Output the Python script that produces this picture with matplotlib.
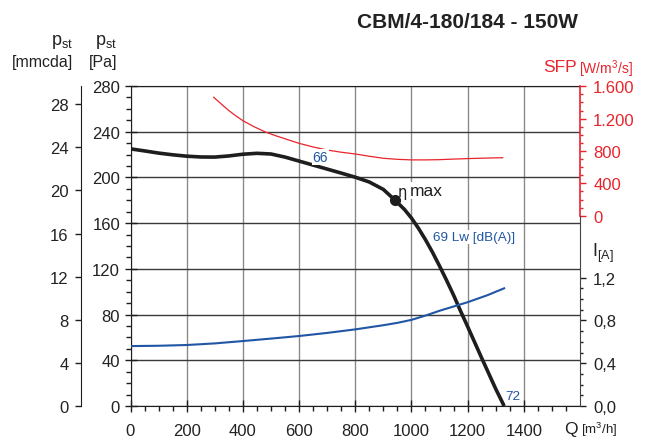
import matplotlib.pyplot as plt
import numpy as np
from matplotlib.ticker import FixedLocator, MultipleLocator

plt.rcParams['font.family'] = ['Liberation Sans', 'DejaVu Sans']
plt.rcParams['mathtext.fontset'] = 'custom'
plt.rcParams['mathtext.rm'] = 'Liberation Sans'
plt.rcParams['mathtext.it'] = 'Liberation Sans'

# pressure curve, Q [m3/h] vs p_st [Pa]
q_p = [0, 50, 100, 150, 200, 250, 300, 350, 400, 450, 500, 550, 600, 650, 700, 750, 800, 850, 900,
       942, 975, 1000, 1025, 1050, 1075, 1100, 1125, 1150, 1175, 1200, 1250, 1300, 1330]
p_st = [225, 223.2, 221.3, 219.8, 218.6, 217.9, 217.8, 218.8, 220.3, 221.1, 220.5, 217.8, 214.3, 210.8,
        207.3, 203.8, 200.2, 196, 189.5, 180, 172, 164.5, 155.5, 145.5, 134.5, 122.5, 110, 97, 83, 69.5, 42, 15, 0]

# specific fan power, W/(m3/s)
q_sfp = [296, 325, 350, 375, 400, 440, 480, 520, 560, 600, 650, 700, 750, 800, 850, 900, 950, 1000,
         1050, 1100, 1150, 1200, 1250, 1325]
sfp = [1465, 1375, 1300, 1235, 1175, 1100, 1035, 985, 940, 895, 850, 812, 785, 763, 735, 710, 697, 690,
       690, 693, 700, 706, 711, 717]

# current, A
q_i = [0, 100, 200, 300, 400, 500, 600, 700, 800, 900, 950, 1000, 1050, 1100, 1150, 1200, 1270, 1330]
current = [0.56, 0.563, 0.57, 0.585, 0.607, 0.63, 0.654, 0.683, 0.716, 0.755, 0.777, 0.805, 0.845,
           0.89, 0.93, 0.97, 1.035, 1.10]

eta_q, eta_p = 942, 180

x_ticks = [0, 200, 400, 600, 800, 1000, 1200, 1400]
pa_ticks = [0, 40, 80, 120, 160, 200, 240, 280]
mm_ticks = [0, 4, 8, 12, 16, 20, 24, 28]
sfp_ticks = [0, 400, 800, 1200, 1600]
sfp_labels = ['0', '400', '800', '1.200', '1.600']
i_ticks = [0, 0.4, 0.8, 1.2]
i_labels = ['0,0', '0,4', '0,8', '1,2']

RED = '#e8242c'
BLUE = '#2156a5'
DARK = '#1e1e1e'
W, H = 646, 439


def fx(x):
    return x / W


def fy(y):
    return 1 - y / H


fig = plt.figure(figsize=(6.46, 4.39), dpi=100)
ax = fig.add_axes([130.5 / W, 32 / H, 449.5 / W, 320 / H])

# main axis: pressure in Pa
ax.set_xlim(0, 1600)
ax.set_ylim(0, 280)
ax.xaxis.set_major_locator(FixedLocator(x_ticks))
ax.xaxis.set_minor_locator(FixedLocator(np.arange(0, 1600, 50)))
ax.yaxis.set_major_locator(FixedLocator(pa_ticks))
ax.yaxis.set_minor_locator(MultipleLocator(10))
ax.grid(axis='x', which='major', color='#8a8a8a', lw=1)
ax.grid(axis='y', which='major', color='#3a3a3a', lw=1)
ax.set_axisbelow(True)
ax.spines['right'].set_visible(False)
for s in ['left', 'bottom', 'top']:
    ax.spines[s].set_color(DARK)
ax.tick_params(which='major', direction='inout', length=9, width=1, color=DARK, labelsize=12, labelcolor='#222')
ax.tick_params(axis='y', which='major', pad=3)
ax.tick_params(axis='x', which='major', length=8, pad=8)
ax.tick_params(which='minor', direction='out', length=3.5, width=1, color=DARK)
ax.plot(q_p, p_st, color=DARK, lw=2.6, solid_capstyle='butt', solid_joinstyle='round', zorder=3)
ax.plot([eta_q], [eta_p], 'o', color=DARK, ms=7, zorder=4)

# mmcda axis on the far left
ax_mm = ax.twinx()
ax_mm.set_ylim(0, 320 / 10.78)
ax_mm.yaxis.set_ticks_position('left')
ax_mm.spines['left'].set_position(('outward', 36))
ax_mm.spines['left'].set_color(DARK)
for s in ['right', 'top', 'bottom']:
    ax_mm.spines[s].set_visible(False)
ax_mm.set_yticks(mm_ticks)
ax_mm.tick_params(axis='y', direction='out', length=4.5, width=1, color=DARK, labelsize=12, labelcolor='#222', pad=4)

# SFP axis (red, upper right)
ax_sfp = ax.twinx()
sfp_scale = 1600 / 129.4
ax_sfp.set_ylim(-(407 - 216.7) * sfp_scale, 1600 + 0.3 * sfp_scale)
for s in ['left', 'top', 'bottom']:
    ax_sfp.spines[s].set_visible(False)
ax_sfp.spines['right'].set_color(RED)
ax_sfp.spines['right'].set_linewidth(1.2)
ax_sfp.spines['right'].set_bounds(0, 1600 + 0.3 * sfp_scale)
ax_sfp.yaxis.set_major_locator(FixedLocator(sfp_ticks))
ax_sfp.yaxis.set_minor_locator(FixedLocator(np.arange(0, 1601, 100)))
ax_sfp.set_yticklabels(sfp_labels)
ax_sfp.tick_params(axis='y', which='major', direction='out', length=4.5, width=1, color=RED, labelcolor=RED, labelsize=12, pad=5)
ax_sfp.tick_params(axis='y', which='minor', direction='out', length=2.5, width=1, color=RED)
ax_sfp.plot(q_sfp, sfp, color=RED, lw=0.9)

# current axis (lower right)
ax_i = ax.twinx()
ax_i.set_ylim(0, 320 / 107)
for s in ['left', 'top', 'bottom']:
    ax_i.spines[s].set_visible(False)
ax_i.spines['right'].set_color('#444')
ax_i.spines['right'].set_bounds(0, (407 - 216.7) / 107)
ax_i.yaxis.set_major_locator(FixedLocator(i_ticks))
ax_i.yaxis.set_minor_locator(FixedLocator(np.arange(0, 1.25, 0.1)))
ax_i.set_yticklabels(i_labels)
ax_i.tick_params(axis='y', which='major', direction='out', length=4.5, width=1, color=DARK, labelcolor='#222', labelsize=12, pad=5)
ax_i.tick_params(axis='y', which='minor', direction='out', length=2.5, width=1, color=DARK)
ax_i.plot(q_i, current, color=BLUE, lw=1.5)

# labels inside the chart
box = dict(facecolor='white', edgecolor='none', pad=0.5)
ax_i.text(676, 218, '66', transform=ax.transData, color=BLUE, fontsize=10, ha='center', va='center', bbox=box)
ax_i.text(967, 188, 'η', transform=ax.transData, color=DARK, fontsize=10.5, ha='center', va='center',
          family='DejaVu Sans')
ax_i.text(995, 188.5, 'max', transform=ax.transData, color=DARK, fontsize=12.5, ha='left', va='center', bbox=box)
ax_i.text(1075, 148, '69 Lw [dB(A)]', transform=ax.transData, color=BLUE, fontsize=9.7, ha='left', va='center', bbox=box)
ax_i.text(1362, 9, '72', transform=ax.transData, color=BLUE, fontsize=9.7, ha='center', va='center')

# headers and axis captions
fig.text(fx(578), fy(22), 'CBM/4-180/184 - 150W', ha='right', va='center', fontsize=15, weight='bold', color='#222')
fig.text(fx(62), fy(42), r'p$_{\rm st}$', ha='center', va='center', fontsize=13, color='#222')
fig.text(fx(73), fy(63), '[mmcda]', ha='right', va='center', fontsize=11.5, color='#222')
fig.text(fx(106), fy(42), r'p$_{\rm st}$', ha='center', va='center', fontsize=13, color='#222')
fig.text(fx(117), fy(63), '[Pa]', ha='right', va='center', fontsize=11.5, color='#222')
fig.text(fx(577), fy(67), 'SFP', ha='right', va='center', fontsize=12.5, color=RED)
fig.text(fx(579), fy(69), r'[W/m$^{3}$/s]', ha='left', va='center', fontsize=10, color=RED)
fig.text(fx(592), fy(253), r'I$_{\rm [A]}$', ha='left', va='center', fontsize=13, color='#222')
fig.text(fx(564), fy(430), 'Q', ha='left', va='center', fontsize=12.5, color='#222')
fig.text(fx(581), fy(430), r'[m$^{3}$/h]', ha='left', va='center', fontsize=9.5, color='#222')

fig.savefig('out.png', dpi=100)
